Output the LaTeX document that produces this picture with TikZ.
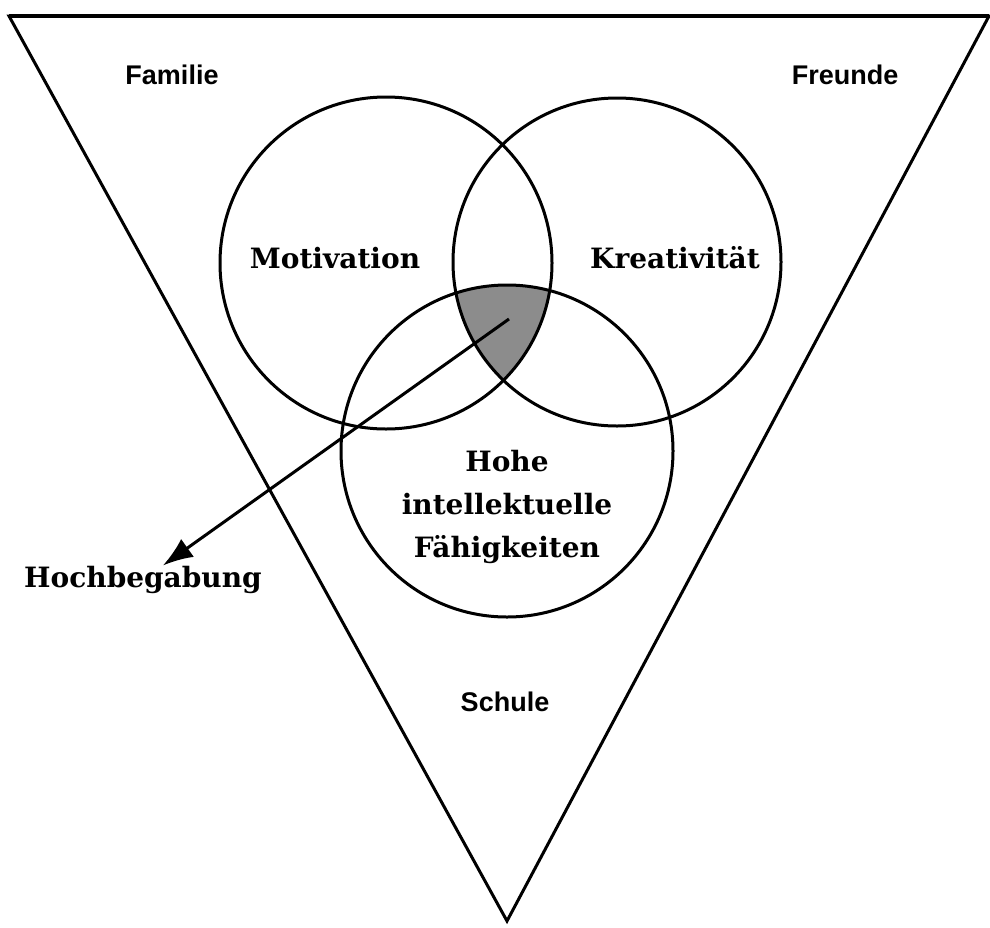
\documentclass[tikz,border=0pt]{standalone}
\usepackage{fontspec}
\newfontfamily\labelfont{Liberation Sans}
\newfontfamily\titlefont{DejaVu Serif}
\usepackage{tikz}
\usetikzlibrary{arrows.meta,positioning,calc}
\usepackage{xcolor}

\tikzset{
  umfeld/.style={font=\labelfont\bfseries\fontsize{27}{32}\selectfont},
  faktor/.style={font=\titlefont\bfseries\fontsize{28}{43}\selectfont, align=center},
}

\begin{document}
\begin{tikzpicture}[x=1pt, y=-1pt, line width=3pt]
                    \useasboundingbox (0,0) rectangle (990,927);
                    % Umfeld
                    \draw[line join=miter] (9,16) -- (989,16) -- (507,921) -- cycle;
                    \draw[line width=4.5pt] (9,16) -- (989,16);
                    % Kreise
                    \coordinate (mot) at (386,263);
                    \coordinate (kre) at (617,262);
                    \coordinate (int) at (507,451);
                    \begin{scope}
                      \clip (mot) circle[radius=166];
                      \clip (kre) circle[radius=164];
                      \fill[black!45] (int) circle[radius=166];
                    \end{scope}
                    \draw (mot) circle[radius=166];
                    \draw (kre) circle[radius=164];
                    \draw (int) circle[radius=166];
                    % Texte
                    \node[umfeld] (familie) at (172,75) {Familie};
                    \node[umfeld] (freunde) at (845,75) {Freunde};
                    \node[umfeld] (schule) at (505,702) {Schule};
                    \node[faktor] (motiv) at (335,258) {Motivation};
                    \node[faktor] (kreat) at (675,258) {Kreativität};
                    \node[faktor] (faehig) at (507,507) {Hohe\\intellektuelle\\Fähigkeiten};
                    \node[faktor] (hoch) at (143,580) {Hochbegabung};
                    % Pfeil
                    \coordinate (kern) at (509,319);
                    \draw[-{Latex[length=30pt,width=22pt]}] (kern) -- ([xshift=20pt,yshift=-4pt]hoch.north);
                \end{tikzpicture}
\end{document}
